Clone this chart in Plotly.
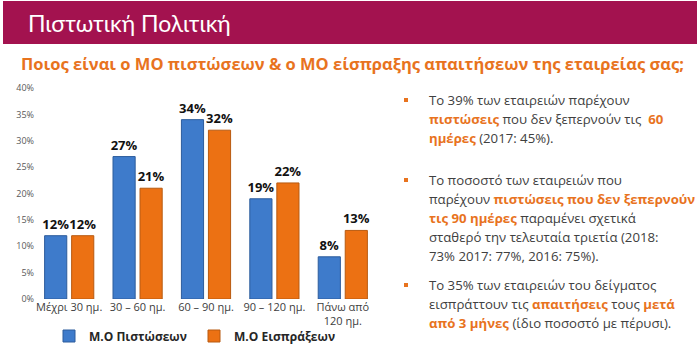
import plotly.graph_objects as go

categories = ["Μέχρι 30 ημ.", "30 – 60 ημ.", "60 – 90 ημ.", "90 – 120 ημ.", "Πάνω από<br>120 ημ."]
credit = [0.12, 0.27, 0.34, 0.19, 0.08]
collect = [0.12, 0.21, 0.32, 0.22, 0.13]
yticks = [0, 0.05, 0.10, 0.15, 0.20, 0.25, 0.30, 0.35, 0.40]
ytick_labels = ["0%", "5%", "10%", "15%", "20%", "25%", "30%", "35%", "40%"]

W, H = 700, 358
L, R, T, B = 35, 323, 88, 59
PW, PH = W - L - R, H - T - B

def px(x):
    return (x - L) / PW

def py(y):
    return (H - B - y) / PH

FONT = "Open Sans"
BLUE = "#3E7BCB"
ORANGE = "#EC7113"
HL = "#E8731E"
TXT = "#404040"

fig = go.Figure()
fig.add_trace(go.Bar(
    x=categories, y=credit, name="<b>M.O Πιστώσεων</b>",
    marker=dict(color=BLUE, line=dict(color="#2C5C9C", width=1)),
    text=[f"<b>{round(v*100)}%</b>" for v in credit], textposition="outside",
    constraintext="none",
    textfont=dict(size=13, color="#111111", family=FONT), cliponaxis=False,
))
fig.add_trace(go.Bar(
    x=categories, y=collect, name="<b>M.O Εισπράξεων</b>",
    marker=dict(color=ORANGE, line=dict(color="#B85A10", width=1)),
    text=[f"<b>{round(v*100)}%</b>" for v in collect], textposition="outside",
    constraintext="none",
    textfont=dict(size=13, color="#111111", family=FONT), cliponaxis=False,
))

shapes = [dict(type="rect", xref="paper", yref="paper",
               x0=px(3), x1=px(697), y0=py(44), y1=py(1),
               fillcolor="#A3124F", line=dict(width=0), layer="below")]

ann = [
    dict(text="Πιστωτική Πολιτική", x=px(26), y=py(23), xanchor="left", yanchor="middle",
         font=dict(size=23, color="white", family="Lato")),
    dict(text="<b>Ποιος είναι ο ΜΟ πιστώσεων & ο ΜΟ είσπραξης απαιτήσεων της εταιρείας σας;</b>",
         x=px(352), y=py(63), xanchor="center", yanchor="middle",
         font=dict(size=16.5, color=HL, family=FONT)),
]

def hl(s):
    return f"<b><span style='color:{HL}'>{s}</span></b>"

lines = [
    (100, "Το 39% των εταιρειών παρέχουν"),
    (119, hl("πιστώσεις") + " που δεν ξεπερνούν τις  " + hl("60")),
    (138, hl("ημέρες") + " (2017: 45%)."),
    (180, "Το ποσοστό των εταιρειών που"),
    (199, "παρέχουν " + hl("πιστώσεις που δεν ξεπερνούν")),
    (218, hl("τις 90 ημέρες") + " παραμένει σχετικά"),
    (237, "σταθερό την τελευταία τριετία (2018:"),
    (256, "73% 2017: 77%, 2016: 75%)."),
    (285, "Το 35% των εταιρειών του δείγματος"),
    (304, "εισπράττουν τις " + hl("απαιτήσεις") + " τους " + hl("μετά")),
    (323, hl("από 3 μήνες") + " (ίδιο ποσοστό με πέρυσι)."),
]
for yy, t in lines:
    ann.append(dict(text=t, x=px(427), y=py(yy), xanchor="left", yanchor="middle",
                    font=dict(size=13.2, color=TXT, family=FONT)))
for yy in (100, 180, 285):
    shapes.append(dict(type="rect", xref="paper", yref="paper",
                       x0=px(404), x1=px(408), y0=py(yy + 2), y1=py(yy - 2),
                       fillcolor=HL, line=dict(width=0)))

for a in ann:
    a.update(xref="paper", yref="paper", showarrow=False)

fig.update_layout(
    width=W, height=H, margin=dict(l=L, r=R, t=T, b=B, autoexpand=False),
    paper_bgcolor="white", plot_bgcolor="white",
    barmode="group", bargap=0.21, bargroupgap=0.18,
    font=dict(family=FONT, color=TXT),
    shapes=shapes, annotations=ann,
    showlegend=True,
    legend=dict(orientation="h", x=px(194), xanchor="center", y=py(336), yanchor="middle",
                font=dict(size=12, color="#262626", family=FONT), itemwidth=30,
                entrywidth=100, tracegroupgap=0, bgcolor="rgba(0,0,0,0)"),
    xaxis=dict(showline=False, ticks="", tickfont=dict(size=11, color=TXT, family=FONT)),
    yaxis=dict(range=[0, 0.4], tickvals=yticks, ticktext=ytick_labels, showgrid=False,
               zeroline=False, showline=False, tickfont=dict(size=9, color="#595959", family=FONT)),
)

fig.write_html("out.html", config={"displayModeBar": False},
               post_script="document.body.style.margin='0';")
